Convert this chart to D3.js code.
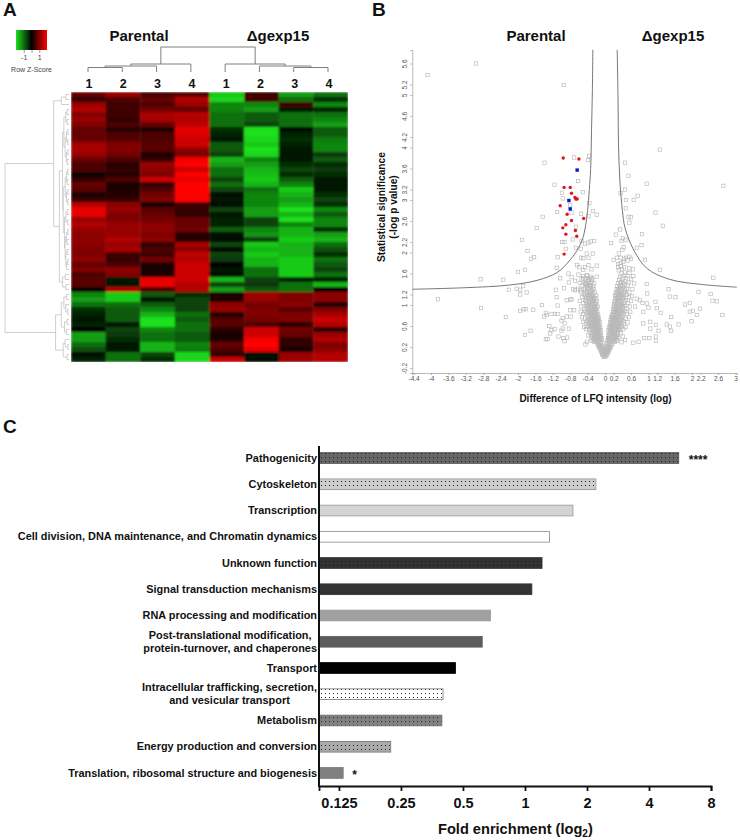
<!DOCTYPE html>
<html><head><meta charset="utf-8">
<script src="https://cdn.jsdelivr.net/npm/d3@7"></script>
<style>html,body{margin:0;padding:0;background:#fff}svg{display:block}text{font-family:"Liberation Sans",Arial,sans-serif}</style>
</head><body><div id="chart"></div>
<script>
// ---------- Panel A data ----------
const heatColumns = ["P1","P2","P3","P4","D1","D2","D3","D4"];
const columnLabels = ["1","2","3","4","1","2","3","4"];
const heatP1 = [4,2,6,7,5,6,5,4,4,4,6.5,6.5,6,4,3,3,.5,2,4,3.5,1,2,7,9,9,6,7,6,5.5,5.5,5.5,5,5,5.5,4,5,3,3.5,3.5,.5,-6,-7,-5,-2,-1.5,-1,-1.5,0,-7,-7,-5,-3.5,-.5,-1.5];
const heatP2 = [6,3,2.5,2.5,2.5,2,3,1.5,3,3.5,5,5,4.5,3,1.5,2,1.5,3,1,1,1.5,2,5.5,6,5,5,6,6,6,7,6,6.5,2.5,2,3,5.5,5,-1,-1,7,-9,-9,-5,-4,-4,-4,-1,-3,-2.5,-2,-1,-1,-5,-5];
const heatP3 = [3,4,3,4.5,6.5,6.5,4,1,3,3,3.5,3.5,1,2,6,5.5,5,8,2,3,4.5,5,.8,3.5,4,4.5,5.5,5.5,5,5.5,2,3,2.5,4.5,1,.8,1,9,9,3,-4,-1,-4,-6,-8,-10,-10,-6,-5,-5,-8,-8,-3,-2];
const heatP4 = [3.5,7,6,4,7,7,7.5,9,8.5,8,8,5.5,5,9.5,10,8,10,9,10,10,10,10,2.5,2,2,4,4,4.5,1.5,1.5,6.5,5.5,7.5,7,8,8,8,8,7,7,-2,-3,-3,-3,-5,-4,-5,-5,-4,-4,-6,-5.5,-9.5,-9.5];
const heatD1 = [-9,-9.5,-6,-6,-5,-5,-5,-2,-1.5,-1,-4,-4,-3,-8,-7,-5,-5,-3,-5,-3,-.5,-1,-.5,-3,-1,-1.5,-1.5,-4,-.5,-.5,-3,-.3,-3,-2.5,0,-1,-.5,-8,-3,-7,1,1,5.5,6,1,3.5,3.5,1.5,1,1,4,3,2,8];
const heatD2 = [2.5,2.5,-6,-7,-4,-4,-3,-10,-10,-9.5,-9,-10,-9.5,-6,-7,-8,-8.5,-9,-8,-5,-6,-6,-6,-7,-7,-3,-3,-6,-6.5,-3,-9,-8,-9,-8,-8,-5,-5,-3,-2.5,-4,6,6,4.5,5,5,4.5,3,8,8,9.5,10,9,-.5,-.5];
const heatD3 = [-7,-5,2.5,-1,-5,-5,-5,-.5,-1.5,-2,-1.5,-1,-1,-1,-2,-3,-2,-4,-6,-9,-8,-7,-8,-10,-8,-10,-6,-8,-8,-9,-8,-8,-8,-9,-9,-9,-9,-1.5,-5,-5,5,5,5.5,3.5,5,5,1.5,4.5,4,2,2,.5,6,6];
const heatD4 = [-5,-2,-6,-1.5,-5,-6,-7,-4,-4,-5.5,-6,-6,-2.5,-4,-2,-2.5,-2,-1,-.8,-1,-2,-3,-2,-6,-4,-6,-6,-2,-7,-8,-5,-3.5,-2,-5,-4,-3,-5,-1.5,-8,.5,5.5,5.5,1,5,6.5,8,7,1.5,6,7,5,5.5,7,7];
const zKeyTicks = [-1,0,1];
// dendrograms: [height, childA, childB]; a number is a column or row index
const columnTree = [100,[32,[24,[18,0,1],2],3],[32,4,[24,5,[18,6,7]]]];
const rowTree = [100,
 [24,[12,[5,0,1],2],
  [15,
   [10,[8,[5,[3,3,4],[3,5,6]],[6,[4,[2,7,8],[2,9,10]],[4,[2,11,12],[3,13,14]]]],
    [9,[6,[4,[2,15,16],[3,17,18]],[4,[2,19,20],[2,21,22]]],
     [7,[5,[3,23,24],[2,25,26]],[6,[4,[2,27,28],[3,29,30]],[5,[3,31,32],[4,[2,33,34],35]]]]]],
   [10,[6,36,37],[5,38,39]]]],
 [21,[12,[8,[4,40,41],[5,42,[2,43,44]]],[7,[3,45,46],[4,47,48]]],[9,[6,49,[2,50,51]],[3,52,53]]]];

// ---------- Panel B data ----------
const xTickValues = [-4.4,-4,-3.6,-3.2,-2.8,-2.4,-2,-1.6,-1.2,-.8,-.4,0,.2,.6,1,1.2,1.6,2,2.2,2.6,3];
const yTickValues = [-.2,.2,.6,1,1.2,1.6,2,2.2,2.6,3,3.2,3.6,4,4.2,4.6,5,5.2,5.6];
const curveLeft = [[-4.43,1.30],[-3.2,1.33],[-2.2,1.38],[-1.56,1.47],[-1.1,1.62],[-.8,1.86],[-.6,2.1],[-.5,2.3],[-.43,2.6],[-.4,2.8],[-.36,3.2],[-.33,3.6],[-.31,4.3],[-.29,5.1],[-.28,5.86]];
const curveRight = [[.28,5.86],[.3,4.9],[.31,4.1],[.34,3.4],[.4,2.8],[.46,2.47],[.64,2.08],[.96,1.7],[1.48,1.49],[2.24,1.39],[3.03,1.34]];
const redProteins = [[-.96,3.80],[-.60,3.78],[-.94,3.24],[-.80,3.24],[-.77,3.13],[-.69,3.05],[-.64,3.02],[-.67,3.02],[-1.03,2.89],[-.87,2.73],[-.49,2.65],[-.77,2.61],[-.90,2.53],[-.97,2.47],[-.68,2.42],[-.90,2.35],[-.65,2.31],[-.94,1.97]];
const blueProteins = [[-.64,3.57],[-.83,2.99],[-.80,2.83]];
const greyProteins = [
[-4.08,5.38],[-2.96,5.6],[-.95,5.19],[-1.39,3.71],[-.71,3.81],[-.36,3.84],[-.39,3.76],[-.62,3.36],[-1.16,3.29],[-.99,3.14],[-.51,3.15],[-.97,3.03],[-.36,2.94],[-1.10,2.77],[-.77,2.76],[-.55,2.74],[-1.43,2.68],[-.28,2.79],[-.19,2.72],[-.38,2.69],[-.80,2.90],
[1.26,3.96],[.46,3.71],[.54,3.46],[.96,3.31],[2.72,3.27],[.46,3.20],[.36,3.13],[.75,3.08],[.48,3.0],[.66,3.0],[.48,2.84],[1.16,2.76],[.54,2.68],
[-1.57,2.47],[-1.91,2.24],[-1.78,2.03],[-1.63,1.91],[-1.70,1.88],[-1.84,1.67],[-2.0,1.63],[-2.86,1.49],[-2.34,1.48],[-2.21,1.29],[-2.03,1.31],[-1.95,1.29],[-1.88,1.36],[-1.80,1.24],[-1.95,1.2],[-3.84,1.11],[-2.85,.94],[-2.28,.77],[-1.95,.89],[-1.87,.92],[-1.82,.92],[-1.65,.91],[-1.45,1.0],[-1.71,.51],[-1.84,.43],
[-1.13,1.29],[-1.11,1.15],[-1.09,.99],[-1.36,.85],[-1.40,.78],[-1.34,.81],[-1.23,.83],[-1.15,.83],[-1.09,.83],[-1.28,.6],[-1.23,.52],[-1.16,.54],[-1.26,.46],[-1.36,.35],[-1.32,.35],[-1.07,.40],[-.96,.37],[-.87,.38],[-.93,.31],[-1.11,1.71],[-1.03,1.51],[-.94,1.32],[-.98,2.2],[-.93,2.2],[-.90,2.07],[-1.09,1.91],[-.84,1.6],[-.83,1.43],[-.77,1.53],[-.73,1.3],[-.69,1.46],[-.8,1.1],[-.88,1.09],[-.77,1.11],[-.97,.75],[-1.0,.7],[-.88,.78],[-.93,.65],[-.97,.55],[-.83,.55],[-1.0,.51],[-.8,.9],[-.71,.9],[-.79,.78],
[-.67,2.49],[-.74,2.25],[-.67,2.09],[-.54,2.22],[-.46,2.17],[-.38,2.19],[-.33,2.21],[-.25,2.22],[-.56,2.07],[-.42,1.98],[-.5,1.89],[-.38,1.9],[-.28,1.98],[-.55,1.9],[-.64,1.76],[-.59,1.72],[-.46,1.72],[-.38,1.76],[-.5,1.67],[-.19,1.75],[-.31,1.68],[-.42,1.57],[-.31,1.51],[-.19,1.54],[-.5,1.51],[-.61,1.58],[-.38,1.45],[-.25,1.41],[-.46,1.40],[-.34,1.36],[-.62,1.31],[-.69,1.28],[-.57,1.28],
[.85,2.35],[.73,2.09],[.84,2.14],[1.33,2.51],[.92,1.86],[1.26,1.67],[2.49,1.52],[1.46,1.3],[2.15,1.25],[2.43,1.21],[2.47,1.08],[2.57,1.07],[1.49,1.16],[1.62,1.15],[1.16,1.06],[1.19,.94],[1.0,.95],[1.28,.85],[1.84,1.01],[1.95,1.04],[1.95,.87],[2.02,.89],[2.18,.93],[2.11,.81],[2.7,.81],[1.99,.69],[1.52,.77],[1.42,.63],[1.49,.59],[1.52,.51],[1.69,.63],[.96,1.40],[.97,1.22],[.86,1.04],[.88,.87],[.73,1.12],[.8,1.09],[.96,1.03],[.69,.97],[1.04,.68],[.88,.65],[1.04,.55],[1.23,.51],[1.17,.62],[.9,.37],[1.02,.37],[1.17,.4],[1.17,.32],[.77,.3],[.65,.28],
[-.02,.01],[.02,.02],[-.04,.03],[.03,.04],[0,.05],[-.06,.05],[.05,.06],[-.03,.07],[.02,.08],[-.07,.08],[.07,.09],[-.05,.1],[.04,.1],[-.09,.11],[.08,.12],[-.01,.12],[.01,.13],[-.06,.13],[.06,.14],[-.1,.14],[.1,.15],[-.03,.15],[.03,.16],[-.08,.16],[.08,.17],[-.12,.17],[.12,.18],[-.05,.18],[.05,.19],[-.1,.19],[.09,.2],[-.14,.2],[.13,.21],[-.07,.21],[.06,.22],[-.11,.22],[.11,.23],[-.16,.23],[.15,.24],[-.09,.24],[.07,.25],[-.13,.25],[.04,.2],[-.04,.21],[.17,.26],[-.18,.27],
[-.06,.28],[-.1,.29],[-.15,.3],[-.2,.31],[-.25,.3],[-.08,.33],[-.12,.34],[-.17,.35],[-.22,.36],[-.28,.34],[-.07,.37],[-.11,.39],[-.16,.4],[-.2,.41],[-.26,.39],[-.32,.38],[-.09,.42],[-.14,.44],[-.19,.45],[-.24,.43],[-.3,.44],[-.1,.47],[-.13,.48],[-.17,.49],[-.22,.5],[-.27,.48],[-.34,.47],[-.39,.42],[-.42,.3],[-.45,.25],
[.05,.28],[.09,.29],[.13,.3],[.18,.31],[.23,.3],[.06,.33],[.1,.34],[.15,.35],[.2,.36],[.26,.34],[.07,.37],[.12,.39],[.16,.4],[.21,.41],[.27,.39],[.31,.37],[.08,.42],[.13,.44],[.18,.45],[.23,.43],[.29,.44],[.09,.47],[.14,.48],[.19,.49],[.24,.5],[.3,.48],[.36,.46],[.41,.4],[.46,.33],[.38,.29],
[-.1,.52],[-.14,.53],[-.19,.54],[-.24,.55],[-.3,.53],[-.36,.52],[-.43,.54],[-.11,.57],[-.16,.58],[-.21,.59],[-.27,.6],[-.33,.58],[-.4,.59],[-.48,.58],[-.13,.62],[-.18,.63],[-.23,.64],[-.29,.65],[-.35,.63],[-.44,.64],[-.12,.67],[-.17,.68],[-.22,.69],[-.28,.7],[-.34,.68],[-.41,.69],[-.5,.68],[-.14,.72],[-.19,.73],[-.25,.74],[-.31,.75],[-.37,.73],[-.46,.74],[-.15,.77],[-.2,.78],[-.26,.79],[-.32,.8],[-.4,.78],[-.53,.77],
[.08,.52],[.13,.53],[.18,.54],[.23,.55],[.29,.53],[.35,.52],[.42,.54],[.09,.57],[.14,.58],[.2,.59],[.26,.6],[.32,.58],[.39,.59],[.47,.58],[.11,.62],[.16,.63],[.22,.64],[.28,.65],[.34,.63],[.43,.64],[.12,.67],[.17,.68],[.23,.69],[.29,.7],[.35,.68],[.42,.69],[.52,.67],[.13,.72],[.19,.73],[.25,.74],[.31,.75],[.38,.73],[.47,.74],[.14,.77],[.2,.78],[.27,.79],[.33,.8],[.41,.78],[.55,.77],
[-.16,.82],[-.22,.83],[-.28,.84],[-.35,.85],[-.42,.84],[-.5,.83],[-.18,.87],[-.24,.88],[-.3,.89],[-.37,.9],[-.45,.88],[-.56,.87],[-.2,.92],[-.26,.93],[-.33,.94],[-.4,.95],[-.48,.93],[-.17,.97],[-.23,.98],[-.29,.99],[-.36,1.0],[-.44,.98],[-.55,.97],[-.21,1.02],[-.27,1.04],[-.34,1.05],[-.41,1.03],[-.5,1.04],[-.19,1.07],[-.25,1.09],[-.31,1.1],[-.38,1.11],[-.46,1.09],[-.58,1.08],[-.22,1.13],[-.28,1.15],[-.35,1.16],[-.43,1.14],[-.52,1.15],[-.2,1.18],[-.27,1.2],[-.33,1.21],[-.4,1.19],[-.48,1.2],
[.16,.82],[.22,.83],[.28,.84],[.35,.85],[.42,.84],[.51,.83],[.18,.87],[.24,.88],[.3,.89],[.37,.9],[.46,.88],[.58,.87],[.19,.92],[.26,.93],[.33,.94],[.41,.95],[.5,.93],[.2,.97],[.25,.98],[.31,.99],[.38,1.0],[.45,.98],[.57,.97],[.21,1.02],[.28,1.04],[.35,1.05],[.43,1.03],[.53,1.04],[.22,1.07],[.27,1.09],[.33,1.1],[.4,1.11],[.48,1.09],[.6,1.08],[.24,1.13],[.3,1.15],[.37,1.16],[.44,1.14],[.55,1.15],[.23,1.18],[.29,1.2],[.35,1.21],[.42,1.19],[.5,1.2],[.62,1.17],
[-.24,1.24],[-.3,1.26],[-.37,1.27],[-.45,1.25],[-.55,1.24],[-.26,1.3],[-.33,1.32],[-.41,1.33],[-.49,1.31],[-.28,1.36],[-.36,1.38],[-.43,1.39],[-.52,1.37],[-.31,1.44],[-.39,1.47],[-.47,1.43],[-.58,1.42],[-.29,1.48],[-.35,1.5],[-.44,1.51],[-.54,1.49],[-.33,1.54],[-.41,1.56],[-.5,1.55],
[.25,1.24],[.31,1.26],[.38,1.27],[.46,1.25],[.56,1.24],[.27,1.3],[.34,1.32],[.41,1.33],[.5,1.31],[.63,1.3],[.28,1.36],[.36,1.38],[.44,1.39],[.53,1.37],[.3,1.42],[.37,1.44],[.45,1.45],[.55,1.43],[.67,1.41],[.33,1.48],[.4,1.5],[.48,1.51],[.6,1.49],[.35,1.54],[.43,1.56],[.52,1.55],[.65,1.55],[.38,1.6],[.46,1.62],[.56,1.61],
[.32,1.66],[.39,1.68],[.3,1.72],[.36,1.74],[.44,1.72],[.56,1.7],[.64,1.68],[.3,1.78],[.36,1.8],[.42,1.82],[.52,1.85],[.44,1.88],[.36,1.9],[.48,1.9],[.56,1.92],[.6,1.88],[.27,1.9],[.2,1.86],[.32,1.98],[.4,2.05],[.43,2.1],[.38,2.22],[.41,2.27],[.47,2.24],[.14,2.18],[.25,2.34],[.35,2.44],[.56,2.57],[.59,2.67],
[-.15,.31],[-.23,.33],[-.31,.32],[-.13,.37],[-.19,.38],[-.24,.37],[-.29,.41],[-.12,.42],[-.16,.46],[-.21,.47],[-.25,.46],[-.15,.51],[-.21,.52],[-.26,.53],[-.33,.55],[-.13,.56],[-.18,.56],[-.24,.57],[-.3,.57],[-.37,.6],[-.15,.6],[-.2,.61],[-.26,.62],[-.32,.61],[-.38,.66],[-.15,.65],[-.2,.66],[-.25,.67],[-.31,.66],[-.16,.7],[-.22,.71],[-.28,.72],[-.34,.71],[-.17,.75],[-.23,.76],[-.29,.77],[-.35,.77],[-.19,.81],[-.25,.81],[-.32,.83],[-.38,.82],[-.21,.86],[-.27,.86],[-.33,.87],[-.4,.87],[-.23,.91],[-.3,.91],[-.36,.93],[-.2,.95],[-.26,.96],[-.33,.97],[-.4,.98],[-.24,1.01],[-.31,1.02],[-.38,1.01],[-.22,1.05],[-.29,1.07],[-.36,1.08],[-.43,1.07],[-.25,1.12],[-.32,1.13],[-.39,1.14],[-.3,1.18],[-.37,1.19],[-.45,1.18],[-.34,1.24],[-.41,1.23],[-.29,1.29],[-.38,1.3],[-.46,1.29],[-.33,1.35],[-.4,1.36],[-.36,1.42],[-.43,1.42],
[.11,.31],[.2,.33],[.28,.32],[.1,.37],[.17,.38],[.23,.37],[.27,.41],[.1,.42],[.15,.46],[.21,.47],[.26,.46],[.12,.51],[.18,.52],[.25,.53],[.32,.55],[.11,.56],[.17,.56],[.23,.57],[.3,.57],[.36,.6],[.13,.6],[.19,.61],[.25,.62],[.31,.61],[.38,.66],[.14,.65],[.2,.66],[.26,.67],[.32,.66],[.16,.7],[.22,.71],[.28,.72],[.35,.71],[.17,.75],[.23,.76],[.29,.77],[.36,.77],[.19,.81],[.25,.81],[.32,.83],[.39,.82],[.21,.86],[.27,.86],[.34,.87],[.41,.87],[.23,.91],[.3,.91],[.37,.93],[.22,.95],[.28,.96],[.34,.97],[.41,.98],[.25,1.01],[.31,1.02],[.39,1.01],[.24,1.05],[.3,1.07],[.37,1.08],[.45,1.07],[.27,1.12],[.33,1.13],[.4,1.14],[.26,1.18],[.32,1.19],[.39,1.18],[.28,1.24],[.35,1.23],[.43,1.22],[.3,1.29],[.37,1.3],[.45,1.29],[.32,1.35],[.4,1.36],[.35,1.42],[.42,1.42]
];

// ---------- Panel C data ----------
const categories = [["Pathogenicity"],["Cytoskeleton"],["Transcription"],["Cell division, DNA maintenance, and Chromatin dynamics"],["Unknown function"],["Signal transduction mechanisms"],["RNA processing and modification"],["Post-translational modification,","protein-turnover, and chaperones"],["Transport"],["Intracellular trafficking, secretion,","and vesicular transport"],["Metabolism"],["Energy production and conversion"],["Translation, ribosomal structure and biogenesis"]];
const foldEnrichment = [5.58,2.21,1.71,1.315,1.21,1.08,.68,.62,.46,.40,.395,.223,.131];
const barFills = ["#666","#ccc","#d4d4d4","#fff","#333","#333","#a0a0a0","#5c5c5c","#000","#fff","#808080","#aaa","#808080"];
const barDotted = [1,1,0,0,1,0,0,0,0,1,1,1,0];
const barStrokes = ["#555","#999","#999","#888","#333","#333","#999","#5c5c5c","#000","#777","#777","#777","#777"];
const stars = ["****","","","","","","","","","","","","*"];
const foldTicks = [.125,.25,.5,1,2,4,8];

const svg = d3.select("#chart").append("svg").attr("width",740).attr("height",840);
const defs = svg.append("defs");
function blur(id,sd){ defs.append("filter").attr("id",id).attr("x","-2%").attr("y","-2%").attr("width","104%").attr("height","104%")
  .append("feGaussianBlur").attr("stdDeviation",sd); }
blur("soft",0.85); blur("softer",0.4);

function label(t,x,y,size,opts={}){
  return svg.append("text").attr("x",x).attr("y",y).attr("font-size",size)
    .attr("font-weight",opts.weight||"bold").attr("fill",opts.fill||"#111")
    .attr("text-anchor",opts.anchor||"middle").text(t);
}
label("A",3,16,19,{anchor:"start"});
label("B",372,16,19,{anchor:"start"});
label("C",3,433,19,{anchor:"start"});

// ---------- Panel A ----------
const heat = d3.transpose([heatP1,heatP2,heatP3,heatP4,heatD1,heatD2,heatD3,heatD4]);
const colX = d3.scaleBand().domain(heatColumns).range([71,348]);
const rowY = d3.scaleBand().domain(d3.range(heat.length)).range([92,362]);
const heatColor = d3.scaleLinear().domain([-10,0,10]).range(["#1ce01c","#000","#ff0000"]);
const heatClip = defs.append("clipPath").attr("id","heatClip");
heatClip.append("rect").attr("x",colX.range()[0]).attr("y",rowY.range()[0])
  .attr("width",colX.range()[1]-colX.range()[0]).attr("height",rowY.range()[1]-rowY.range()[0]);
const gHeat = svg.append("g").attr("clip-path","url(#heatClip)").append("g").attr("filter","url(#soft)");
heat.forEach((row,r)=>{
  gHeat.selectAll(null).data(row).join("rect")
    .attr("x",(d,i)=>colX(heatColumns[i])).attr("y",rowY(r))
    .attr("width",colX.bandwidth()+.3).attr("height",rowY.bandwidth()+.3)
    .attr("fill",d=>heatColor(d));
});
const leafX = d3.scalePoint().domain(d3.range(8)).range([88,328]);
svg.append("g").selectAll("text").data(columnLabels).join("text")
  .attr("x",(d,i)=>leafX(i)+1).attr("y",88).attr("text-anchor","middle")
  .attr("font-size",12.5).attr("font-weight","bold").attr("fill","#111").text(d=>d);
label("Parental",139,41,15);
label("Δgexp15",278,41,15);

function drawTree(node,g,pos,hgt,horizontal,leafH){
  if(typeof node==="number") return {p:pos(node),h:leafH};
  const a=drawTree(node[1],g,pos,hgt,horizontal,leafH), b=drawTree(node[2],g,pos,hgt,horizontal,leafH);
  const p=(a.p+b.p)/2, h=node[0];
  const path = d3.path();
  if(horizontal){ path.moveTo(hgt(a.h),a.p); path.lineTo(hgt(h),a.p); path.lineTo(hgt(h),b.p); path.lineTo(hgt(b.h),b.p); }
  else { path.moveTo(a.p,hgt(a.h)); path.lineTo(a.p,hgt(h)); path.lineTo(b.p,hgt(h)); path.lineTo(b.p,hgt(b.h)); }
  g.append("path").attr("d",path.toString());
  return {p,h};
}
const gColTree = svg.append("g").attr("fill","none").attr("stroke","#707070").attr("stroke-width",.9);
drawTree(columnTree,gColTree,i=>leafX(i),d3.scaleLinear().domain([0,100]).range([72,47]),false,0);
const gRowTree = svg.append("g").attr("fill","none").attr("stroke","#c4c4c4").attr("stroke-width",.8);
drawTree(rowTree,gRowTree,i=>rowY(i)+rowY.bandwidth()/2,d3.scaleLinear().domain([0,100]).range([69,5]),true,0);

// colour key
const keyCol = d3.scaleLinear().domain([-3,0,3]).range(["#1ce01c","#000","#ff0000"]);
const grad = defs.append("linearGradient").attr("id","key");
d3.range(-3,3.01,1.5).forEach(v=>grad.append("stop").attr("offset",(v+3)/6).attr("stop-color",keyCol(v)));
svg.append("rect").attr("x",16).attr("y",30).attr("width",31).attr("height",20).attr("fill","url(#key)");
const keyAxis = svg.append("g").attr("transform","translate(0,50)")
  .call(d3.axisBottom(d3.scaleLinear().domain([-1,1]).range([23.7,39.3])).tickValues(zKeyTicks).tickSize(3).tickFormat(d=>d===0?"":d));
keyAxis.select(".domain").remove();
keyAxis.selectAll("line").attr("stroke","#555").attr("stroke-width",.6);
keyAxis.selectAll("text").attr("font-size",7).attr("fill","#444").attr("dy",".5em").attr("font-family","Liberation Sans");
label("Row Z-Score",31.5,72,7,{weight:"normal",fill:"#444"});

// ---------- Panel B ----------
const volX = d3.scaleLinear().domain([-4.43,3.03]).range([412.3,736.8]);
const volY = d3.scaleLinear().domain([-.295,5.857]).range([373,50]);
const fmt = d=>String(d);
const gx = svg.append("g").attr("transform","translate(0,373)").call(d3.axisBottom(volX).tickValues(xTickValues).tickSize(2).tickPadding(1).tickFormat(fmt));
const gy = svg.append("g").attr("transform","translate(412.3,0)").call(d3.axisLeft(volY).tickValues(yTickValues).tickSize(2).tickPadding(1).tickFormat(fmt));
[gx,gy].forEach(g=>{g.selectAll("path,line").attr("stroke","#999").attr("stroke-width",.7);
  g.selectAll("text").attr("font-size",6.5).attr("fill","#555").attr("font-family","Liberation Sans");});
gy.selectAll("text").attr("text-anchor","middle").attr("dy",0).attr("x",0).attr("y",0)
  .attr("transform","translate(-5,0) rotate(-90)");

const gGrey = svg.append("g").attr("filter","url(#softer)").attr("fill","none").attr("stroke","#b8b8b8").attr("stroke-width",.65);
gGrey.selectAll("rect").data(greyProteins).join("rect")
  .attr("x",d=>volX(d[0])-1.7).attr("y",d=>volY(d[1])-1.7).attr("width",3.4).attr("height",3.4);
const vLine = d3.line().x(d=>volX(d[0])).y(d=>volY(d[1])).curve(d3.curveCatmullRom);
svg.append("path").attr("d",vLine(curveLeft)).attr("fill","none").attr("stroke","#777").attr("stroke-width",1);
svg.append("path").attr("d",vLine(curveRight)).attr("fill","none").attr("stroke","#777").attr("stroke-width",1);
svg.append("g").selectAll("circle").data(redProteins).join("circle")
  .attr("cx",d=>volX(d[0])).attr("cy",d=>volY(d[1])).attr("r",1.7).attr("fill","#e0141c");
svg.append("g").selectAll("rect").data(blueProteins).join("rect")
  .attr("x",d=>volX(d[0])-1.7).attr("y",d=>volY(d[1])-1.7).attr("width",3.4).attr("height",3.4).attr("fill","#0a14c8");
label("Parental",536,41,15);
label("Δgexp15",673,41,15);
label("Difference of LFQ intensity (log)",595.5,402,10);
svg.append("text").attr("transform","translate(385,207) rotate(-90)").attr("text-anchor","middle")
  .attr("font-size",10.2).attr("font-weight","bold").attr("fill","#111").text("Statistical significance");
svg.append("text").attr("transform","translate(397,207) rotate(-90)").attr("text-anchor","middle")
  .attr("font-size",10.2).attr("font-weight","bold").attr("fill","#111").text("(-log p value)");

// ---------- Panel C ----------
const foldX = d3.scaleLog().base(2).domain([.1,8]).range([319,711]);
const catY = d3.scaleBand().domain(d3.range(categories.length)).range([444.9,786.1]).paddingInner(.59).paddingOuter(.295);
barFills.forEach((c,i)=>{
  if(!barDotted[i]) return;
  const p = defs.append("pattern").attr("id","dots"+i).attr("patternUnits","userSpaceOnUse").attr("width",4).attr("height",4);
  p.append("rect").attr("width",4).attr("height",4).attr("fill",c);
  p.append("rect").attr("x",1).attr("y",1).attr("width",1).attr("height",1).attr("fill",i===4?"#111":"#222");
});
svg.append("g").selectAll("rect").data(foldEnrichment).join("rect")
  .attr("x",foldX(.1)).attr("y",(d,i)=>catY(i)).attr("height",catY.bandwidth())
  .attr("width",d=>foldX(d)-foldX(.1))
  .attr("fill",(d,i)=>barDotted[i]?`url(#dots${i})`:barFills[i])
  .attr("stroke",(d,i)=>barStrokes[i]).attr("stroke-width",.8);
categories.forEach((lines,i)=>{
  const c = catY(i)+catY.bandwidth()/2;
  if(lines.length===1){ label(lines[0],317,c+3.7,10.9,{anchor:"end"}); }
  else {
    const a = label(lines[0],0,c-3,10.9), b = label(lines[1],0,c+10,10.9);
    const w = Math.max(a.node().getComputedTextLength(),b.node().getComputedTextLength());
    a.attr("x",317-w/2); b.attr("x",317-w/2);
  }
  if(stars[i]) label(stars[i],foldX(foldEnrichment[i])+(i===0?10:9),c+6,12,{anchor:"start"});
});
const foldAxis = svg.append("g").attr("transform","translate(0,786)").call(d3.axisBottom(foldX).tickValues(foldTicks).tickSize(5).tickPadding(7).tickFormat(fmt));
foldAxis.selectAll("path,line").attr("stroke","#111").attr("stroke-width",1.8);
foldAxis.selectAll("text").attr("font-size",14.5).attr("font-weight","bold").attr("fill","#111").attr("font-family","Liberation Sans");
svg.append("line").attr("x1",319).attr("x2",319).attr("y1",446).attr("y2",787).attr("stroke","#111").attr("stroke-width",2);
const foldTitle = label("Fold enrichment (log",0,0,14.6,{anchor:"start"}).attr("x",438).attr("y",834);
foldTitle.append("tspan").attr("dy",3).attr("font-size",10).text("2");
foldTitle.append("tspan").attr("dy",-3).text(")");
</script></body></html>
